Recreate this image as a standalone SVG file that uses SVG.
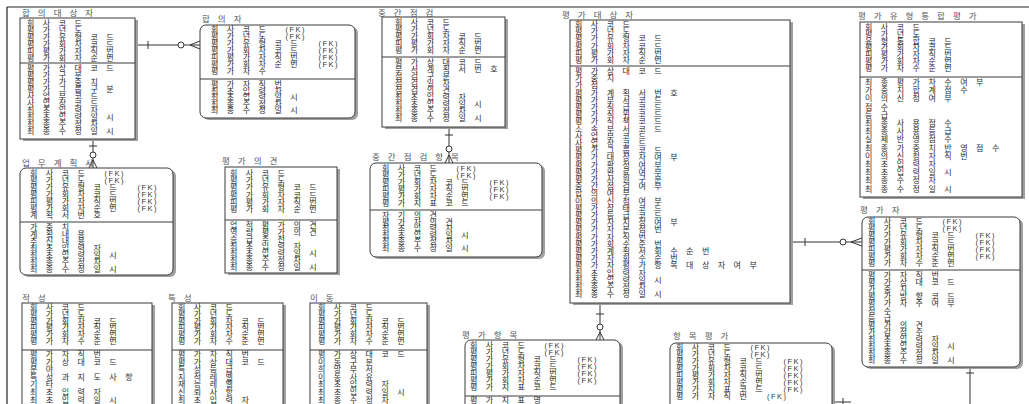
<svg xmlns="http://www.w3.org/2000/svg" width="1029" height="404" viewBox="0 0 1029 404">
<style>
text{font-family:"Noto Sans CJK KR","Noto Sans",sans-serif}
.t{font-size:8px;letter-spacing:8.5px;fill:#2a2a2a}
.ti{font-size:8.5px;letter-spacing:8px;fill:#555}
.fk{font-family:"Liberation Sans",Arial,sans-serif;font-size:7.5px;letter-spacing:1.5px;fill:#333}
.bx{fill:#fff;stroke:#3a3a3a;stroke-width:1}
.sh{fill:#a0a0a0}
.dv{stroke:#3a3a3a;stroke-width:1}
.fr{stroke:#222;stroke-width:1.2}
#connectors line,#connectors path{stroke:#333;stroke-width:1;fill:none}
#connectors circle{fill:#fff;stroke:#333;stroke-width:1}
</style>
<rect width="1029" height="404" fill="#fff"/>
<line class="fr" x1="7" y1="7" x2="1029" y2="7"/>
<line class="fr" x1="7" y1="7" x2="7" y2="404"/>

<g id="connectors">
<line x1="135" y1="45" x2="200" y2="45"/><line x1="148" y1="41" x2="148" y2="49"/><circle cx="181" cy="45" r="3"/><path d="M190,45 L200,41 M190,45 L200,49"/>
<line x1="93" y1="139" x2="93" y2="168"/><line x1="89" y1="146" x2="97" y2="146"/><circle cx="93" cy="155" r="3"/><path d="M93,160 L89,168 M93,160 L97,168"/>
<line x1="449" y1="127" x2="449" y2="163"/><line x1="445" y1="135" x2="453" y2="135"/><circle cx="449" cy="149" r="3"/><path d="M449,155 L445,163 M449,155 L453,163"/>
<line x1="790" y1="242" x2="862" y2="242"/><line x1="805" y1="238" x2="805" y2="246"/><circle cx="843" cy="242" r="3"/><path d="M851,242 L862,238 M851,242 L862,246"/>
<line x1="600" y1="303" x2="600" y2="340"/><line x1="596" y1="314" x2="604" y2="314"/><circle cx="600" cy="327" r="3"/><path d="M600,332 L596,340 M600,332 L604,340"/>
<line x1="970" y1="367" x2="970" y2="404"/><line x1="966" y1="373" x2="974" y2="373"/>
<line x1="833" y1="402" x2="851" y2="402"/><line x1="843" y1="398" x2="843" y2="404"/>
</g>

<g id="hapuidaesangja">
<rect class="sh" x="23" y="20" width="115" height="121"/>
<rect class="bx" x="20" y="18" width="115" height="121"/>
<line class="dv" x1="20" y1="63" x2="135" y2="63"/>
<text class="ti" x="22" y="16">합의대상자</text>
<text class="t"><tspan x="27" y="26">회사코드</tspan><tspan x="27" y="33">평가년도</tspan><tspan x="27" y="40">평가유형코드</tspan><tspan x="27" y="47">평가회차코드</tspan><tspan x="27" y="54">피평가자직번</tspan><tspan x="27" y="61">평가회차순번</tspan></text>
<text class="t"><tspan x="27" y="71">평가상대코드</tspan><tspan x="27" y="78">평가구분</tspan><tspan x="27" y="85">평가가중치</tspan><tspan x="27" y="92">평가그룹구분</tspan><tspan x="27" y="99">사업부코드</tspan><tspan x="27" y="106">사업장코드</tspan><tspan x="27" y="113">최초입력자</tspan><tspan x="27" y="120">최초입력일시</tspan><tspan x="27" y="127">최종수정자</tspan><tspan x="27" y="134">최종수정일시</tspan></text>
</g>

<g id="hapuija">
<rect class="sh" x="203" y="27" width="155" height="93" rx="6"/>
<rect class="bx" x="200" y="25" width="155" height="93" rx="6"/>
<line class="dv" x1="200" y1="79" x2="355" y2="79"/>
<text class="ti" x="202" y="22">합의자</text>
<text class="t"><tspan x="211" y="32">회사코드</tspan><tspan x="211" y="39">평가년도</tspan><tspan x="211" y="46">평가유형코드</tspan><tspan x="211" y="53">평가회차코드</tspan><tspan x="211" y="60">피평가자직번</tspan><tspan x="211" y="67">평가회차순번</tspan><tspan x="211" y="74">평가차수</tspan></text>
<text class="fk"><tspan x="285.5" y="32">(FK)</tspan><tspan x="285.5" y="39">(FK)</tspan><tspan x="318.5" y="46">(FK)</tspan><tspan x="318.5" y="53">(FK)</tspan><tspan x="318.5" y="60">(FK)</tspan><tspan x="318.5" y="67">(FK)</tspan></text>
<text class="t"><tspan x="211" y="87">평가자직번</tspan><tspan x="211" y="93.5">최초입력자</tspan><tspan x="211" y="100">최초입력일시</tspan><tspan x="211" y="106.5">최종수정자</tspan><tspan x="211" y="113">최종수정일시</tspan></text>
</g>

<g id="junggan-jeomgeom">
<rect class="sh" x="385" y="19" width="123" height="110"/>
<rect class="bx" x="382" y="17" width="123" height="110"/>
<line class="dv" x1="382" y1="57" x2="505" y2="57"/>
<text class="ti" x="378" y="16">중간점검</text>
<text class="t"><tspan x="395" y="25">회사코드</tspan><tspan x="395" y="32">평가년도</tspan><tspan x="395" y="39">평가회차코드</tspan><tspan x="395" y="46">피평가자직번</tspan><tspan x="395" y="53">평가회차순번</tspan></text>
<text class="t"><tspan x="395" y="65">평가상대코드</tspan><tspan x="395" y="72">부서계획서번호</tspan><tspan x="395" y="79">점검구분</tspan><tspan x="395" y="86">점검일자</tspan><tspan x="395" y="93">점검의견</tspan><tspan x="395" y="100">최초입력자</tspan><tspan x="395" y="107">최초입력일시</tspan><tspan x="395" y="114">최종수정자</tspan><tspan x="395" y="121">최종수정일시</tspan></text>
</g>

<g id="pyeongga-daesangja">
<rect class="sh" x="573" y="22" width="220" height="283"/>
<rect class="bx" x="570" y="20" width="220" height="283"/>
<line class="dv" x1="570" y1="66" x2="790" y2="66"/>
<text class="ti" x="562" y="18">평가대상자</text>
<text class="t"><tspan x="575" y="27">회사코드</tspan><tspan x="575" y="34.2">평가년도</tspan><tspan x="575" y="41.4">평가유형코드</tspan><tspan x="575" y="48.6">평가회차코드</tspan><tspan x="575" y="55.8">피평가자직번</tspan><tspan x="575" y="63">평가회차순번</tspan></text>
<text class="t"><tspan x="575" y="74">평가상대코드</tspan><tspan x="575" y="81.2">가중치</tspan><tspan x="575" y="88.4">가점</tspan><tspan x="575" y="95.6">평가계획서번호</tspan><tspan x="575" y="102.8">평가부서코드</tspan><tspan x="575" y="110">평가직급코드</tspan><tspan x="575" y="117.2">평가직위코드</tspan><tspan x="575" y="124.4">평가직책코드</tspan><tspan x="575" y="131.6">소속부서코드</tspan><tspan x="575" y="138.8">사업부코드</tspan><tspan x="575" y="146">사업장코드</tspan><tspan x="575" y="153.2">평가그룹코드</tspan><tspan x="575" y="160.4">평가대상자여부</tspan><tspan x="575" y="167.6">평가확정여부</tspan><tspan x="575" y="174.8">평가완료여부</tspan><tspan x="575" y="182">평가사원구분</tspan><tspan x="575" y="189.2">중간점검여부</tspan><tspan x="575" y="196.4">합의여부</tspan><tspan x="575" y="203.6">이의신청여부</tspan><tspan x="575" y="210.8">평가상태코드</tspan><tspan x="575" y="218">평가등급코드</tspan><tspan x="575" y="225.2">평가자지정여부</tspan><tspan x="575" y="232.4">평가자본점번</tspan><tspan x="575" y="239.6">평가자직번</tspan><tspan x="575" y="246.8">평가회수순번</tspan><tspan x="575" y="254">평가계획서회수순번</tspan><tspan x="575" y="261.2">평가자회수순번</tspan><tspan x="575" y="268.4">평가자평가항목대상자여부</tspan><tspan x="575" y="275.6">최초입력자</tspan><tspan x="575" y="282.8">최초입력일시</tspan><tspan x="575" y="290">최종수정자</tspan><tspan x="575" y="297.2">최종수정일시</tspan></text>
</g>

<g id="pyeongga-yuhyeong-tonghap">
<rect class="sh" x="863" y="24" width="162" height="175"/>
<rect class="bx" x="860" y="22" width="162" height="175"/>
<line class="dv" x1="860" y1="77" x2="1022" y2="77"/>
<text class="ti" x="858" y="19">평가유형통합평가</text>
<text class="t"><tspan x="865" y="30">회사코드</tspan><tspan x="865" y="36.8">평가년도</tspan><tspan x="865" y="43.6">유형통합코드</tspan><tspan x="865" y="50.4">평가회차코드</tspan><tspan x="865" y="57.2">피평가자직번</tspan><tspan x="865" y="64">평가회차순번</tspan><tspan x="865" y="70.8">평가차수순번</tspan></text>
<text class="t"><tspan x="865" y="85">최종평가차수여부</tspan><tspan x="865" y="93.2">가중치합계점수</tspan><tspan x="865" y="101.4">이의신청여부</tspan><tspan x="865" y="109.6">점수</tspan><tspan x="865" y="117.8">등급</tspan><tspan x="865" y="126">최종사용점수</tspan><tspan x="865" y="134.2">최종사용등급</tspan><tspan x="865" y="142.4">실제반영점수</tspan><tspan x="865" y="150.6">최종가중치반영점수</tspan><tspan x="865" y="158.8">이의신청자직번</tspan><tspan x="865" y="167">최초입력자</tspan><tspan x="865" y="175.2">최초입력일시</tspan><tspan x="865" y="183.4">최종수정자</tspan><tspan x="865" y="191.6">최종수정일시</tspan></text>
</g>

<g id="eommu-gyehoekseo">
<rect class="sh" x="23" y="170" width="153" height="107" rx="6"/>
<rect class="bx" x="20" y="168" width="153" height="107" rx="6"/>
<line class="dv" x1="20" y1="222" x2="173" y2="222"/>
<text class="ti" x="22" y="166">업무계획서</text>
<text class="t"><tspan x="30" y="176">회사코드</tspan><tspan x="30" y="183">평가년도</tspan><tspan x="30" y="190">평가유형코드</tspan><tspan x="30" y="197">평가회차코드</tspan><tspan x="30" y="204">피평가자직번</tspan><tspan x="30" y="211">평가회차순번</tspan><tspan x="30" y="218">계획서번호</tspan></text>
<text class="fk"><tspan x="104.5" y="176">(FK)</tspan><tspan x="104.5" y="183">(FK)</tspan><tspan x="137.5" y="190">(FK)</tspan><tspan x="137.5" y="197">(FK)</tspan><tspan x="137.5" y="204">(FK)</tspan><tspan x="137.5" y="211">(FK)</tspan></text>
<text class="t"><tspan x="30" y="230">가중치</tspan><tspan x="30" y="237">계획내용</tspan><tspan x="30" y="244">추진내용</tspan><tspan x="30" y="251">최초입력자</tspan><tspan x="30" y="258">최초입력일시</tspan><tspan x="30" y="265">최종수정자</tspan><tspan x="30" y="272">최종수정일시</tspan></text>
</g>

<g id="pyeongga-uigyeon">
<rect class="sh" x="228" y="169" width="112" height="106"/>
<rect class="bx" x="225" y="167" width="112" height="106"/>
<line class="dv" x1="225" y1="220" x2="337" y2="220"/>
<text class="ti" x="222" y="164">평가의견</text>
<text class="t"><tspan x="230" y="176">회사코드</tspan><tspan x="230" y="183.2">평가년도</tspan><tspan x="230" y="190.4">평가유형코드</tspan><tspan x="230" y="197.6">평가회차코드</tspan><tspan x="230" y="204.8">피평가자직번</tspan><tspan x="230" y="212">평가회차순번</tspan></text>
<text class="t"><tspan x="230" y="228">업적평가의견</tspan><tspan x="230" y="235">역량평가의견</tspan><tspan x="230" y="242">승급추천</tspan><tspan x="230" y="249">최초입력자</tspan><tspan x="230" y="256">최초입력일시</tspan><tspan x="230" y="263">최종수정자</tspan><tspan x="230" y="270">최종수정일시</tspan></text>
</g>

<g id="junggan-jeomgeom-hangmok">
<rect class="sh" x="373" y="165" width="172" height="94" rx="6"/>
<rect class="bx" x="370" y="163" width="172" height="94" rx="6"/>
<line class="dv" x1="370" y1="210" x2="542" y2="210"/>
<text class="ti" x="372" y="160">중간점검항목</text>
<text class="t"><tspan x="382" y="171">회사코드</tspan><tspan x="382" y="178">평가년도</tspan><tspan x="382" y="185">평가회차코드</tspan><tspan x="382" y="192">피평가자직번</tspan><tspan x="382" y="199">평가회차순번</tspan><tspan x="382" y="206">평가지표코드</tspan></text>
<text class="fk"><tspan x="456.5" y="171">(FK)</tspan><tspan x="456.5" y="178">(FK)</tspan><tspan x="489.5" y="185">(FK)</tspan><tspan x="489.5" y="192">(FK)</tspan><tspan x="489.5" y="199">(FK)</tspan></text>
<text class="t"><tspan x="382" y="218">자기의견</tspan><tspan x="382" y="224.5">평가자의견</tspan><tspan x="382" y="231">최초입력자</tspan><tspan x="382" y="237.5">최초입력일시</tspan><tspan x="382" y="244">최종수정자</tspan><tspan x="382" y="250.5">최종수정일시</tspan></text>
</g>

<g id="jeokseong">
<rect class="sh" x="25" y="305" width="130" height="110"/>
<rect class="bx" x="22" y="303" width="130" height="110"/>
<line class="dv" x1="22" y1="350" x2="152" y2="350"/>
<text class="ti" x="22" y="301">적성</text>
<text class="t"><tspan x="30" y="310">회사코드</tspan><tspan x="30" y="316.8">평가년도</tspan><tspan x="30" y="323.6">평가회차코드</tspan><tspan x="30" y="330.4">피평가자직번</tspan><tspan x="30" y="337.2">평가회차순번</tspan><tspan x="30" y="344">평가차수순번</tspan></text>
<text class="t"><tspan x="30" y="357">평가자직번</tspan><tspan x="30" y="364.6">평가상대코드</tspan><tspan x="30" y="372.2">분야</tspan><tspan x="30" y="379.8">특성과지도사항</tspan><tspan x="30" y="387.4">기타</tspan><tspan x="30" y="395">최초입력자</tspan><tspan x="30" y="402.6">최초입력일시</tspan></text>
</g>

<g id="teukseong">
<rect class="sh" x="175" y="305" width="111" height="110"/>
<rect class="bx" x="172" y="303" width="111" height="110"/>
<line class="dv" x1="172" y1="350" x2="283" y2="350"/>
<text class="ti" x="168" y="301">특성</text>
<text class="t"><tspan x="178" y="310">회사코드</tspan><tspan x="178" y="316.8">평가년도</tspan><tspan x="178" y="323.6">평가회차코드</tspan><tspan x="178" y="330.4">피평가자직번</tspan><tspan x="178" y="337.2">평가회차순번</tspan><tspan x="178" y="344">평가차수순번</tspan></text>
<text class="t"><tspan x="178" y="357">평가자직번</tspan><tspan x="178" y="364.6">평가상대코드</tspan><tspan x="178" y="372.2">특성등급</tspan><tspan x="178" y="379.8">지적레벨</tspan><tspan x="178" y="387.4">재능레벨</tspan><tspan x="178" y="395">신뢰사항</tspan><tspan x="178" y="402.6">최초입력자</tspan></text>
</g>

<g id="idong">
<rect class="sh" x="313" y="305" width="117" height="110"/>
<rect class="bx" x="310" y="303" width="117" height="110"/>
<line class="dv" x1="310" y1="350" x2="427" y2="350"/>
<text class="ti" x="310" y="301">이동</text>
<text class="t"><tspan x="318" y="310">회사코드</tspan><tspan x="318" y="316.8">평가년도</tspan><tspan x="318" y="323.6">평가회차코드</tspan><tspan x="318" y="330.4">피평가자직번</tspan><tspan x="318" y="337.2">평가회차순번</tspan><tspan x="318" y="344">평가차수순번</tspan></text>
<text class="t"><tspan x="318" y="357">평가상대코드</tspan><tspan x="318" y="364.6">이동구분</tspan><tspan x="318" y="372.2">희망부서</tspan><tspan x="318" y="379.8">이동사유</tspan><tspan x="318" y="387.4">최초입력자</tspan><tspan x="318" y="395">최초입력일시</tspan><tspan x="318" y="402.6">최종수정자</tspan></text>
</g>

<g id="pyeongga-hangmok">
<rect class="sh" x="468" y="342" width="155" height="80" rx="6"/>
<rect class="bx" x="465" y="340" width="155" height="80" rx="6"/>
<line class="dv" x1="465" y1="396" x2="620" y2="396"/>
<text class="ti" x="462" y="338">평가항목</text>
<text class="t"><tspan x="470" y="347.5">회사코드</tspan><tspan x="470" y="354.5">평가년도</tspan><tspan x="470" y="361.5">평가유형코드</tspan><tspan x="470" y="368.5">평가회차코드</tspan><tspan x="470" y="375.5">피평가자직번</tspan><tspan x="470" y="382.5">평가회차순번</tspan><tspan x="470" y="389.5">평가지표코드</tspan></text>
<text class="fk"><tspan x="544.5" y="347.5">(FK)</tspan><tspan x="544.5" y="354.5">(FK)</tspan><tspan x="577.5" y="361.5">(FK)</tspan><tspan x="577.5" y="368.5">(FK)</tspan><tspan x="577.5" y="375.5">(FK)</tspan><tspan x="577.5" y="382.5">(FK)</tspan></text>
<text class="t" x="470" y="403">평가지표명</text>
</g>

<g id="hangmok-pyeongga">
<rect class="sh" x="673" y="345" width="162" height="80" rx="6"/>
<rect class="bx" x="670" y="343" width="162" height="80" rx="6"/>
<text class="ti" x="673" y="339">항목평가</text>
<text class="t"><tspan x="676" y="350">회사코드</tspan><tspan x="676" y="357">평가년도</tspan><tspan x="676" y="364">평가유형코드</tspan><tspan x="676" y="371">평가회차코드</tspan><tspan x="676" y="378">피평가자직번</tspan><tspan x="676" y="385">평가회차순번</tspan><tspan x="676" y="392">평가지표코드</tspan><tspan x="676" y="399">평가자직번</tspan></text>
<text class="fk"><tspan x="750.5" y="350">(FK)</tspan><tspan x="750.5" y="357">(FK)</tspan><tspan x="783.5" y="364">(FK)</tspan><tspan x="783.5" y="371">(FK)</tspan><tspan x="783.5" y="378">(FK)</tspan><tspan x="783.5" y="385">(FK)</tspan><tspan x="783.5" y="392">(FK)</tspan><tspan x="767" y="399">(FK)</tspan></text>
</g>

<g id="pyeonggaja">
<rect class="sh" x="865" y="219" width="158" height="150" rx="6"/>
<rect class="bx" x="862" y="217" width="158" height="150" rx="6"/>
<line class="dv" x1="862" y1="270" x2="1020" y2="270"/>
<text class="ti" x="860" y="213">평가자</text>
<text class="t"><tspan x="868" y="224">회사코드</tspan><tspan x="868" y="231">평가년도</tspan><tspan x="868" y="238">평가유형코드</tspan><tspan x="868" y="245">평가회차코드</tspan><tspan x="868" y="252">피평가자직번</tspan><tspan x="868" y="259">평가회차순번</tspan><tspan x="868" y="266">평가차수순번</tspan></text>
<text class="fk"><tspan x="942.5" y="224">(FK)</tspan><tspan x="942.5" y="231">(FK)</tspan><tspan x="975.5" y="238">(FK)</tspan><tspan x="975.5" y="245">(FK)</tspan><tspan x="975.5" y="252">(FK)</tspan><tspan x="975.5" y="259">(FK)</tspan></text>
<text class="t"><tspan x="868" y="278">평가자직번</tspan><tspan x="868" y="285.1">평가상대코드</tspan><tspan x="868" y="292.2">가중치</tspan><tspan x="868" y="299.3">평가방향코드</tspan><tspan x="868" y="306.4">평가자주여부</tspan><tspan x="868" y="313.5">점수</tspan><tspan x="868" y="320.6">등급</tspan><tspan x="868" y="327.7">평가의견</tspan><tspan x="868" y="334.8">가감점수</tspan><tspan x="868" y="341.9">최초입력자</tspan><tspan x="868" y="349">최초입력일시</tspan><tspan x="868" y="356.1">최종수정자</tspan><tspan x="868" y="363.2">최종수정일시</tspan></text>
</g>
</svg>
